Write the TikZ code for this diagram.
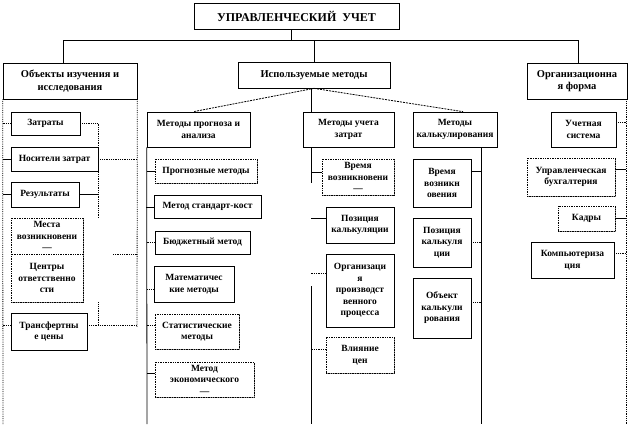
\documentclass[tikz,border=0pt]{standalone}
\usepackage{fontspec}
\setmainfont{Liberation Serif}
\usetikzlibrary{shadows}
\newcommand\bx[7][box]{\node[#1, minimum width={(#5-#3)*1pt}, minimum height={(#6-#4)*1pt}] (#2) at ({(#3+#5)/2},{(#4+#6)/2}) {#7};}
% horizontal connector: style, node, anchor, vertical-line coordinate, y
\newcommand\hc[5][sl]{\coordinate (tmpy) at (0,#5); \draw[#1] (#2.#3 |- tmpy) -- (#4 |- tmpy);}
\begin{document}
\begin{tikzpicture}[x=1pt,y=-1pt,
  sl/.style={line width=0.8pt},
  dt/.style={line width=0.8pt, densely dotted},
  ds/.style={line width=0.8pt, dash pattern=on 2pt off 1pt},
  box/.style={draw, line width=0.7pt, fill=white, align=center, inner sep=1pt,
    font=\fontsize{9.5}{11.5}\selectfont\bfseries,
    drop shadow={shadow xshift=1pt, shadow yshift=-1pt, fill=black!45, opacity=1}},
  dbox/.style={box, densely dotted},
  lbox/.style={box, font=\fontsize{10.5}{12.5}\selectfont\bfseries},
  tbox/.style={box, font=\fontsize{12}{14}\selectfont\bfseries}]
\fill[white] (0,0) rectangle (629,424);
\useasboundingbox (0,0) rectangle (629,424);

% level 0 and 1
\bx[tbox]{T}{194}{3}{399}{29}{УПРАВЛЕНЧЕСКИЙ\ \ УЧЕТ}
\bx[lbox]{O}{3}{63}{137}{99}{Объекты изучения и\\исследования}
\bx[lbox]{M}{238}{62}{390}{88}{Используемые методы}
\bx[lbox]{F}{527}{63}{627}{99}{Организационна\\я форма}

% left column
\bx{Z}{11}{112}{80}{135}{Затраты}
\bx{N}{11}{147}{98}{171}{Носители затрат}
\bx{R}{11}{182}{79}{207}{Результаты}
\bx[dbox]{MV}{11}{218}{83}{254}{Места\\возникновени\\—}
\bx[dbox]{CO}{11}{254}{83}{302}{Центры\\ответственно\\сти}
\bx{TC}{11}{313}{87}{350}{Трансфертны\\е цены}

% methods of forecast
\bx{PA}{147}{112}{250}{147}{Методы прогноза и\\анализа}
\bx[dbox]{P1}{155}{159}{257}{183}{Прогнозные методы}
\bx{P2}{154}{195}{261}{218}{Метод стандарт-кост}
\bx{P3}{155}{231}{250}{254}{Бюджетный метод}
\bx{P4}{154}{266}{234}{302}{Математичес\\кие методы}
\bx[dbox]{P5}{155}{314}{239}{349}{Статистические\\методы}
\bx[dbox]{P6}{155}{362}{254}{397}{Метод\\экономического\\—}

% cost accounting
\bx{U}{303}{112}{394}{147}{Методы учета\\затрат}
\bx[dbox]{U1}{322}{159}{394}{195}{Время\\возникновени\\—}
\bx{U2}{326}{207}{394}{243}{Позиция\\калькуляции}
\bx{U3}{326}{254}{394}{327}{Организаци\\я\\производст\\венного\\процесса}
\bx[dbox]{U4}{326}{337}{394}{373}{Влияние\\цен}

% costing
\bx{K}{413}{112}{497}{147}{Методы\\калькулирования}
\bx{K1}{413}{159}{471}{207}{Время\\возникн\\овения}
\bx{K2}{413}{218}{471}{267}{Позиция\\калькуля\\ции}
\bx{K3}{413}{278}{471}{338}{Объект\\калькули\\рования}

% organisational form
\bx{F1}{551}{112}{616}{147}{Учетная\\система}
\bx[dbox]{F2}{527}{158}{615}{196}{Управленческая\\бухгалтерия}
\bx[dbox]{F3}{558}{206}{615}{231}{Кадры}
\bx{F4}{531}{242}{614}{278}{Компьютериза\\ция}

% ---- connectors: top
\coordinate (bl) at (63,40);
\coordinate (br) at (578,40);
\draw[sl] ([xshift=-5pt]T.south) -- ([xshift=-5pt]T.south |- bl);
\draw[sl] (bl) -- (br);
\draw[sl] (bl) -- (O.north -| bl);
\draw[sl] (M.north) -- (M.north |- bl);
\draw[sl] (br) -- (F.north -| br);

% ---- left column
\coordinate (xL) at (3,424);
\coordinate (xR) at (137,327);
\coordinate (xI) at (98,0);
\draw[dt] (O.south west) -- (xL);
\draw[dt] (O.south east) -- (xR);
\hc[dt]{Z}{west}{xL}{123.5}
\hc[dt]{Z}{east}{xI}{123.5}
\draw[dt] (Z.east -| xI) -- (MV.north -| xI);
\hc[sl]{N}{west}{xL}{159}
\hc[dt]{N}{east}{xR}{159}
\hc[sl]{R}{west}{xL}{194.5}
\hc[sl]{R}{east}{xI}{194.5}
\coordinate (mcs) at (113,254);
\draw[dt] (mcs) -- (mcs -| xR);
\coordinate (ytc) at (0,325);
\draw[dt] (CO.south -| xI) -- (xI |- ytc);
\hc[dt]{TC}{west}{xL}{325}
\hc[dt]{TC}{east}{xR}{325}

% ---- methods
\draw[ds] (M.south) -- ([xshift=-5pt]PA.north);
\draw[ds] (M.south) -- ([xshift=8pt]K.north);
\draw[sl] ([xshift=-3pt]M.south) -- ([xshift=-3pt]M.south |- U.north);

\coordinate (xP) at (147,424);
\draw[sl] (PA.south west) -- (xP);
\hc[sl]{P1}{west}{xP}{171}
\coordinate (p2s) at (146,207);
\draw[sl] (p2s) -- (p2s -| P2.west);
\hc[dt]{P3}{west}{xP}{242.5}
\hc[dt]{P4}{west}{xP}{289}
\hc[dt]{P5}{west}{xP}{325}
\hc[sl]{P6}{west}{xP}{373}

\coordinate (xU) at (311,424);
\coordinate (yu1) at (0,183);
\coordinate (yu2) at (0,286);
\draw[sl] (U.south -| xU) -- (xU |- yu1);
\draw[sl] (xU |- yu2) -- (xU);
\hc[sl]{U1}{west}{xU}{172}
\hc[sl]{U2}{west}{xU}{218}
\hc[dt]{U3}{west}{xU}{273}
\hc[dt]{U4}{west}{xU}{349}

\coordinate (xK) at (481,424);
\draw[sl] (K.south -| xK) -- (xK);
\hc[sl]{K1}{east}{xK}{171}
\hc[dt]{K2}{east}{xK}{242}
\hc[dt]{K3}{east}{xK}{302}

% ---- organisational form
\coordinate (xF) at (626,424);
\draw[dt] (F.south -| xF) -- (xF);
\hc[dt]{F1}{east}{xF}{122}
\hc[sl]{F2}{east}{xF}{169}
\hc[sl]{F3}{east}{xF}{218}
\hc[dt]{F4}{east}{xF}{253}
\end{tikzpicture}
\end{document}
